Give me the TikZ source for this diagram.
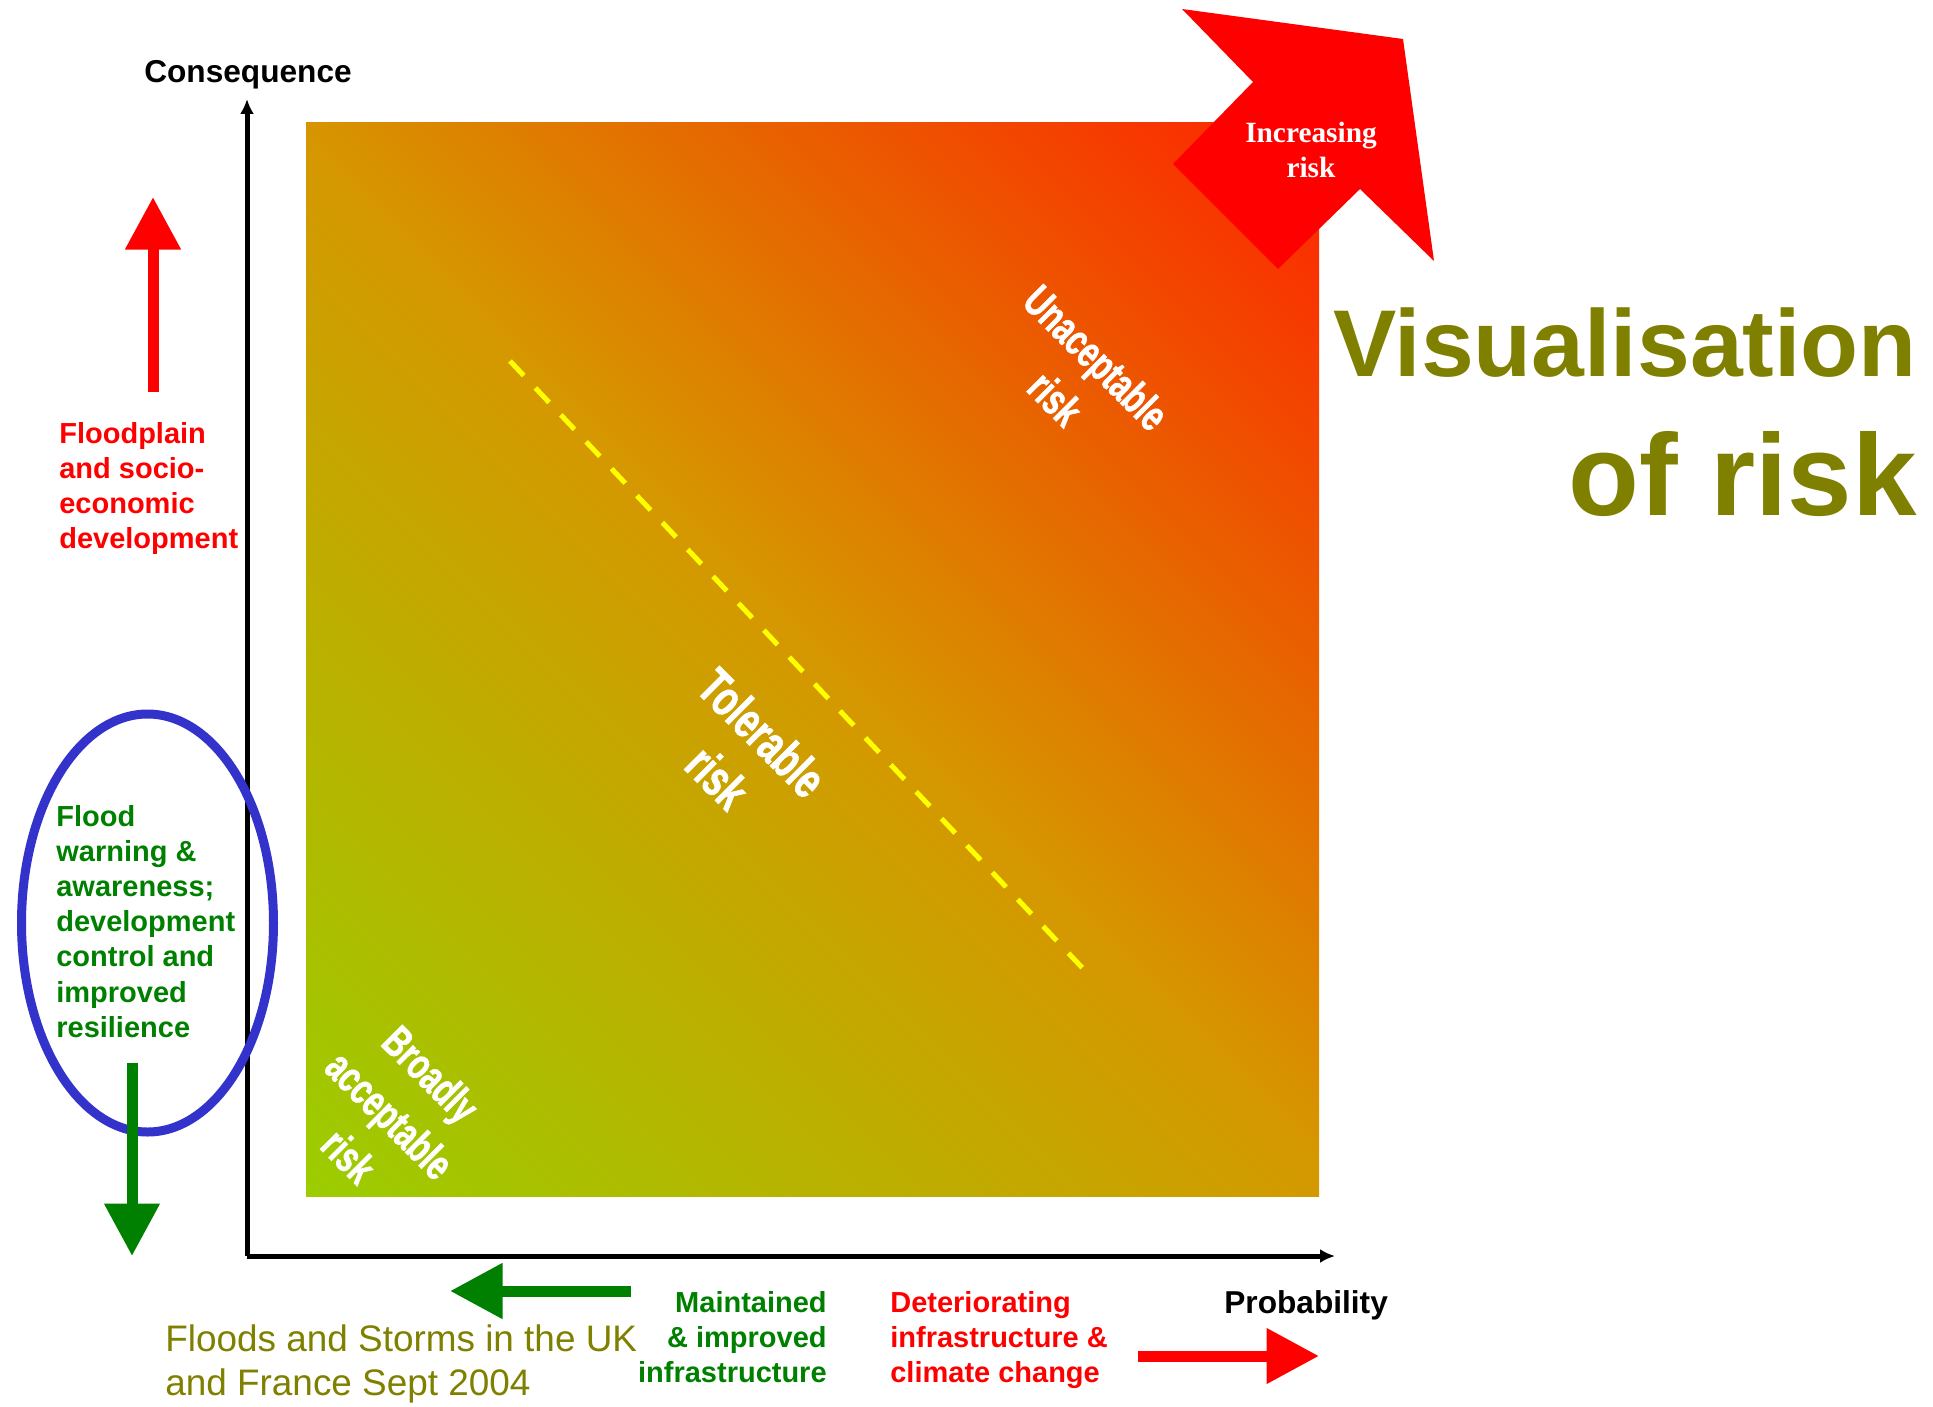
\documentclass[tikz,border=0pt]{standalone}
\usepackage{fontspec}
\setmainfont{Liberation Sans}
\newfontfamily\timesbold{Liberation Serif}
\newfontfamily\narrowsans[FakeStretch=0.7,FakeBold=1.2]{Liberation Sans}
\usetikzlibrary{arrows.meta}

\definecolor{riskgreen}{RGB}{155,205,0}
\definecolor{riskmid}{RGB}{213,152,0}
\definecolor{riskred}{RGB}{255,35,0}
\definecolor{textred}{RGB}{255,0,0}
\definecolor{textgreen}{RGB}{0,128,0}
\definecolor{olivetext}{RGB}{128,128,0}
\definecolor{ringblue}{RGB}{51,51,204}
\definecolor{dashyellow}{RGB}{255,255,0}

\pgfdeclarehorizontalshading{riskshade}{100bp}{color(0bp)=(riskgreen); color(14.6bp)=(riskgreen); color(50bp)=(riskmid); color(85.4bp)=(riskred); color(100bp)=(riskred)}

\begin{document}
\begin{tikzpicture}[
    axis/.style={black, line width=0.1cm, -{Latex[length=0.3cm,width=0.28cm]}},
    fatarrow/.style={line width=0.22cm, -{Triangle[length=1.05cm,width=1.06cm]}},
    sidetext/.style={font=\fontsize{16.5}{20}\selectfont\bfseries, inner sep=0pt},
    zonetext/.style={text=white, rotate=-45, align=center, inner sep=0pt, font=\narrowsans\fontsize{25}{33}\selectfont\bfseries}
  ]
    \useasboundingbox (0,0) rectangle (38.66,-28.12);

    % risk square
    \shade[shading=riskshade, shading angle=45] (6.12,-2.46) rectangle (26.38,-23.92);

    % increasing risk arrow
    \fill [textred] (28.06,-0.78) -- (28.68,-5.22) -- (27.2,-3.78) -- (25.56,-5.38) -- (23.46,-3.28) -- (25.06,-1.64) -- (23.64,-0.18) -- cycle;
    \node (incr) [text=white, align=center, font=\timesbold\fontsize{16.7}{20}\selectfont\bfseries] at (26.22,-3.0) {Increasing\\risk};

    % axes
    \coordinate (origin) at (4.94,-25.12);
    \coordinate (ytop) at (4.94,-1.98);
    \coordinate (xend) at (26.7,-25.12);
    \draw [axis] (origin) -- (ytop);
    \draw [axis] (origin) -- (xend);
    \node (conseq) [anchor=base, font=\fontsize{18}{22}\selectfont\bfseries] at (4.96,-1.66) {Consequence};
    \node (prob) [anchor=base west, inner sep=0pt, font=\fontsize{18}{22}\selectfont\bfseries] at (24.48,-26.26) {Probability};

    % tolerability line
    \coordinate (dashA) at (10.2,-7.22);
    \coordinate (dashB) at (21.8,-19.52);
    \draw [dashyellow, line width=0.1cm, dash pattern=on 0.4cm off 0.34cm] (dashA) -- (dashB);

    % zones
    \node (unacc) [zonetext] at (21.52,-7.56) {Unaceptable\\risk};
    \node (toler) [zonetext, font=\narrowsans\fontsize{29}{36}\selectfont\bfseries] at (14.8,-15.1) {Tolerable\\risk};
    \node (broad) [zonetext] at (7.8,-22.3) {Broadly\\acceptable\\risk};

    % title
    \node (title1) [anchor=base east, inner sep=0pt, text=olivetext, font=\fontsize{54}{60}\selectfont\bfseries] at (38.34,-7.52) {Visualisation};
    \node (title2) [anchor=base east, inner sep=0pt, text=olivetext, font=\fontsize{66}{72}\selectfont\bfseries] at (38.34,-10.3) {of risk};

    % consequence drivers
    \coordinate (upA) at (3.06,-7.84);
    \coordinate (upB) at (3.06,-3.94);
    \draw [fatarrow, textred] (upA) -- (upB);
    \node (develop) [sidetext, anchor=north west, align=left, text=textred] at (1.18,-8.44) {Floodplain\\and socio-\\economic\\development};

    \draw [ringblue, line width=0.18cm] (2.95,-18.46) ellipse (2.52 and 4.18);
    \node (warning) [sidetext, anchor=north west, align=left, text=textgreen] at (1.12,-16.1) {Flood\\warning \&\\awareness;\\development\\control and\\improved\\resilience};
    \coordinate (downA) at (2.64,-21.26);
    \coordinate (downB) at (2.64,-25.12);
    \draw [fatarrow, textgreen] (downA) -- (downB);

    % probability drivers
    \coordinate (leftA) at (12.62,-25.82);
    \coordinate (leftB) at (9.0,-25.82);
    \draw [fatarrow, textgreen] (leftA) -- (leftB);
    \node (maint) [sidetext, anchor=north east, align=right, text=textgreen] at (16.54,-25.82) {Maintained\\\& improved\\infrastructure};
    \node (deter) [sidetext, anchor=north west, align=left, text=textred] at (17.8,-25.82) {Deteriorating\\infrastructure \&\\climate change};
    \coordinate (rightA) at (22.76,-27.12);
    \coordinate (rightB) at (26.38,-27.12);
    \draw [fatarrow, textred] (rightA) -- (rightB);

    % source
    \node (source) [anchor=north west, inner sep=0pt, align=left, text=olivetext, font=\fontsize{21}{25}\selectfont] at (3.3,-26.48) {Floods and Storms in the UK\\and France Sept 2004};
\end{tikzpicture}
\end{document}
